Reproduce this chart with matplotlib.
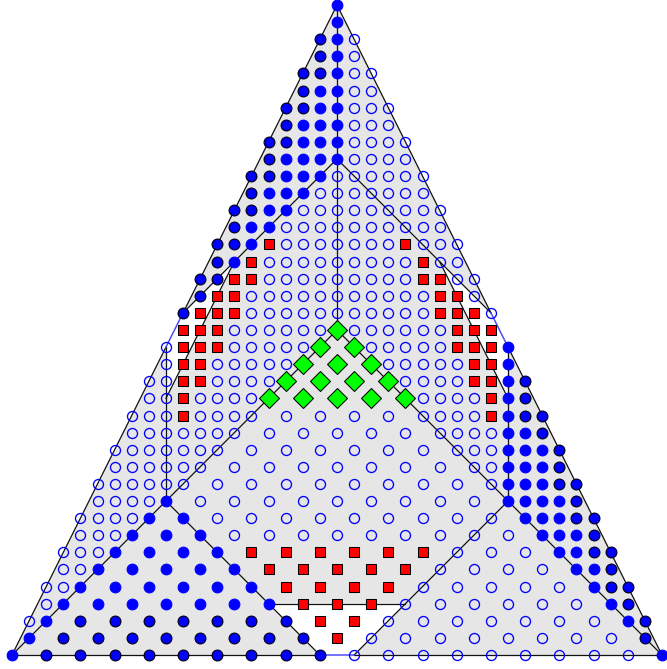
import math
import matplotlib
matplotlib.use("Agg")
import matplotlib.pyplot as plt

# Square lattice 0..38 in both directions; the simplex has corners
# (0, 0), (38, 0) and (19, 38).
N = 38
corners = [(0, 0), (38, 0), (19, 38)]

# Marker codes per lattice row j: (first column i, codes for i, i+1, ...)
#   F filled blue circle, K filled blue circle with dark rim,
#   O open circle, R red square, G green diamond, . no point
rows = {
    38: (19, "F"),
    37: (19, "F"),
    36: (18, "KFO"),
    35: (18, "KFO"),
    34: (17, "KKFOO"),
    33: (17, "KFFOO"),
    32: (16, "KKFFOOO"),
    31: (16, "KFFFOOO"),
    30: (15, "KKFFFOOOO"),
    29: (15, "KFFFFOOOO"),
    28: (14, "KKFFFOOOOOO"),
    27: (14, "KFFFOOOOOOO"),
    26: (13, "KKFFOOOOOOOOO"),
    25: (13, "KFFOOOOOOOOOO"),
    24: (12, "KKFROOOOOOOROOO"),
    23: (12, "KFROOOOOOOOOROO"),
    22: (11, "KKRROOOOOOOOORROO"),
    21: (11, "KRROOOOOOOOOOORRO"),
    20: (10, "KRRROOOOOOOOOOORRRO"),
    19: (10, "RRROOOOOOGOOOOOORRR"),
    18: (9, "ORRROOOOOG.GOOOOORRRF"),
    17: (9, "ORROOOOOG.G.GOOOOORRF"),
    16: (8, "OORROOOOG.G.G.GOOOORRFK"),
    15: (8, "OOROOOOG.G.G.G.GOOOORFK"),
    14: (7, "OOOROOOO.O.O.O.O.OOOORFKK"),
    13: (7, "OOOOOOO.O.O.O.O.O.OOOOFFK"),
    12: (6, "OOOOOOO.O.O.O.O.O.O.OOOFFFK"),
    11: (6, "OOOOOO.O.O.O.O.O.O.O.OOFFFK"),
    10: (5, "OOOOOO.O.O.O.O.O.O.O.O.OFFFKK"),
    9: (5, "OOOOF.O.O.O.O.O.O.O.O.O.FFFFK"),
    8: (4, "OOOOF.F.O.O.O.O.O.O.O.O.O.FFFKK"),
    7: (4, "OOOF.F.F.O.O.O.O.O.O.O.O.O.FFFK"),
    6: (3, "OOOF.F.F.F.R.R.R.R.R.R.O.O.O.FFKK"),
    5: (3, "OOF.F.F.F.F.R.R.R.R.R.O.O.O.O.FFK"),
    4: (2, "OOF.F.F.F.F.F.R.R.R.R.O.O.O.O.O.FKK"),
    3: (2, "OF.F.F.F.F.F.F.R.R.R.O.O.O.O.O.O.FK"),
    2: (1, "OF.K.K.K.K.K.K.K.R.R.O.O.O.O.O.O.O.FK"),
    1: (1, "F.K.K.K.K.K.K.K.K.R.O.O.O.O.O.O.O.O.K"),
    0: (0, "F.K.K.K.K.K.K.K.K.K.O.O.O.O.O.O.O.O.O.F"),
}

# Regions left unshaded inside the simplex
holes = [
    [(9, 15), (13, 23), (10, 20), (9, 18)],
    [(29, 15), (25, 23), (28, 20), (29, 18)],
    [(15, 3), (23, 3), (20, 0), (18, 0)],
]

# Partition edges
dark_edges = [
    [(0, 0), (18, 0)], [(20, 0), (38, 0)],
    [(0, 0), (9, 18)], [(10, 20), (19, 38)],
    [(38, 0), (29, 18)], [(28, 20), (19, 38)],
    [(19, 19), (19, 38)],
    [(0, 0), (19, 19)], [(38, 0), (19, 19)],
    [(9, 9), (9, 18)], [(29, 9), (29, 18)],
    [(9, 9), (18, 0)], [(29, 9), (20, 0)],
    [(15, 3), (23, 3)],
    [(10, 20), (19, 29), (28, 20)],
    [(13, 23), (9, 15)], [(25, 23), (29, 15)],
]
blue_edges = [
    [(18, 0), (20, 0)],
    [(9, 18), (10, 20)],
    [(28, 20), (29, 18)],
]

styles = {
    "O": dict(marker="o", ms=7.2, mfc="none", mec="#0000ff", mew=0.95),
    "F": dict(marker="o", ms=7.7, mfc="#0000ff", mec="#0000ff", mew=0.8),
    "K": dict(marker="o", ms=7.7, mfc="#0000ff", mec="#000022", mew=0.9),
    "R": dict(marker="s", ms=6.9, mfc="#ff0000", mec="#000000", mew=0.75),
    "G": dict(marker="D", ms=9.8, mfc="#00ff00", mec="#000000", mew=0.75),
}

pts = {c: ([], []) for c in styles}
for j, (i0, codes) in rows.items():
    assert i0 == math.ceil(j / 2), j
    assert i0 + len(codes) - 1 == math.floor(N - j / 2), j
    for k, c in enumerate(codes):
        if c != ".":
            pts[c][0].append(i0 + k)
            pts[c][1].append(j)

fig = plt.figure(figsize=(6.67, 6.69), dpi=100)
ax = fig.add_axes([0, 0, 1, 1])
ax.set_xlim(-0.7016, 38.293)
ax.set_ylim(-0.8185, 38.293)
ax.axis("off")

cx, cy = zip(*corners)
ax.fill(cx, cy, color="#e6e6e6", lw=0, zorder=0)
for h in holes:
    hx, hy = zip(*h)
    ax.fill(hx, hy, color="white", lw=0, zorder=0.5)

for e in dark_edges:
    ex, ey = zip(*e)
    ax.plot(ex, ey, color="#111111", lw=0.9, zorder=1)
for e in blue_edges:
    ex, ey = zip(*e)
    ax.plot(ex, ey, color="#4d4dff", lw=1.1, zorder=1)

for z, c in enumerate(["O", "F", "K", "R", "G"]):
    xs, ys = pts[c]
    ax.plot(xs, ys, ls="none", zorder=2 + z, **styles[c])

fig.savefig("out.png", dpi=100)
